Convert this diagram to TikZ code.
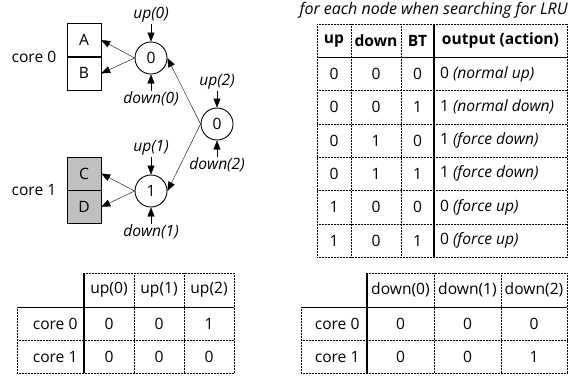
\documentclass[tikz,border=0pt]{standalone}
\usepackage{fontspec}
\setmainfont{Open Sans}
\usetikzlibrary{arrows.meta,positioning}
\definecolor{blkgray}{HTML}{C0C0C0}

\begin{document}
\begin{tikzpicture}[x=10pt, y=-10pt,
    font=\fontsize{15.6}{18}\selectfont,
    blk/.style={draw, minimum width=34pt, minimum height=33pt, inner sep=0pt},
    tn/.style={circle, draw, line width=0.9pt, minimum size=32pt, inner sep=0pt},
    sig/.style={font=\fontsize{15.6}{18}\selectfont\itshape, inner sep=1pt},
    hd/.style={font=\fontsize{15.6}{18}\selectfont\bfseries},
    arrow/.style={-{Triangle[length=9pt, width=7pt]}},
    dotline/.style={densely dotted, line width=0.5pt},
    headline/.style={line width=0.7pt},
    sepline/.style={line width=1.3pt}
]
\useasboundingbox (0,0) rectangle (56.9,37.5);

% Cache blocks
\node[blk] (A) at (8.4,4.0) {A};
\node[blk, below=0pt of A] (B) {B};
\node[blk, fill=blkgray] (C) at (8.4,17.35) {C};
\node[blk, fill=blkgray, below=0pt of C] (D) {D};
\node[left=7pt of A.south west] (core0) {core 0};
\node[left=7pt of C.south west] (core1) {core 1};

% Tree nodes
\node[tn] (n0) at (15.1,5.8) {0};
\node[tn] (n2) at (21.7,12.4) {0};
\node[tn] (n1) at (15.1,19.1) {1};

% Up / down signals
\node[sig] (up0) at (15.1,1.5) {up(0)};
\node[sig] (dn0) at (15.1,9.9) {down(0)};
\node[sig] (up2) at (21.7,8.2) {up(2)};
\node[sig] (dn2) at (21.7,16.5) {down(2)};
\node[sig] (up1) at (15.1,14.8) {up(1)};
\node[sig] (dn1) at (15.1,23.2) {down(1)};

% Arrows
\draw[arrow] (up0) -- (n0);
\draw[arrow] (dn0) -- (n0);
\draw[arrow] (up2) -- (n2);
\draw[arrow] (dn2) -- (n2);
\draw[arrow] (up1) -- (n1);
\draw[arrow] (dn1) -- (n1);
\draw[arrow] (n0.west) -- (A.east);
\draw[arrow] (n0.west) -- (B.east);
\draw[arrow] (n1.west) -- (C.east);
\draw[arrow] (n1.west) -- (D.east);
\draw[arrow] (n2.west) -- (n0.east);
\draw[arrow] (n2.west) -- (n1.east);

% LRU table
\node[sig, anchor=east, inner sep=0pt, font=\fontsize{16}{18}\selectfont\itshape] (cap) at (56.8,1.0) {for each node when searching for LRU};
\foreach \y in {2.4,9.06,12.39,15.72,19.05,22.38,25.71}
  \draw[dotline] (31.7,\y) -- (56.7,\y);
\draw[headline] (31.7,5.73) -- (56.7,5.73);
\foreach \x in {31.7,35.1,40.1,56.7}
  \draw[dotline] (\x,2.4) -- (\x,25.71);
\draw[sepline] (43.4,2.4) -- (43.4,25.71);
\node[hd] (hup) at (33.4,4.07) {up};
\node[hd] (hdown) at (37.6,4.07) {down};
\node[hd] (hbt) at (41.75,4.07) {BT};
\node[hd] (hout) at (50.05,4.07) {output (action)};
\foreach \u/\d/\b/\o/\a [count=\r] in {0/0/0/0/normal up, 0/0/1/1/normal down,
    0/1/0/1/force down, 0/1/1/1/force down, 1/0/0/0/force up, 1/0/1/0/force up} {
  \pgfmathsetmacro{\y}{2.4+3.33*(\r+0.5)}
  \node (u\r) at (33.4,\y) {\u};
  \node (d\r) at (37.6,\y) {\d};
  \node (b\r) at (41.75,\y) {\b};
  \node[anchor=west] (o\r) at (43.65,\y) {\o\ \textit{(\a)}};
}

% up table
\draw[dotline] (8.4,27.3) -- (23.4,27.3);
\draw[headline] (1.7,30.7) -- (23.4,30.7);
\draw[dotline] (1.7,34.0) -- (23.4,34.0);
\draw[dotline] (1.7,37.3) -- (23.4,37.3);
\draw[dotline] (1.7,30.7) -- (1.7,37.3);
\foreach \x in {13.4,18.4,23.4}
  \draw[dotline] (\x,27.3) -- (\x,37.3);
\draw[sepline] (8.4,27.3) -- (8.4,37.3);
\node (hu0) at (10.9,29.0) {up(0)};
\node (hu1) at (15.9,29.0) {up(1)};
\node (hu2) at (20.9,29.0) {up(2)};
\node[anchor=east] (uc0) at (8.1,32.35) {core 0};
\node[anchor=east] (uc1) at (8.1,35.65) {core 1};
\node (u00) at (10.9,32.35) {0};
\node (u01) at (15.9,32.35) {0};
\node (u02) at (20.9,32.35) {1};
\node (u10) at (10.9,35.65) {0};
\node (u11) at (15.9,35.65) {0};
\node (u12) at (20.9,35.65) {0};

% down table
\draw[dotline] (36.7,27.3) -- (56.7,27.3);
\draw[headline] (30.1,30.7) -- (56.7,30.7);
\draw[dotline] (30.1,34.0) -- (56.7,34.0);
\draw[dotline] (30.1,37.3) -- (56.7,37.3);
\draw[dotline] (30.1,30.7) -- (30.1,37.3);
\foreach \x in {43.4,50.1,56.7}
  \draw[dotline] (\x,27.3) -- (\x,37.3);
\draw[sepline] (36.7,27.3) -- (36.7,37.3);
\node (hd0) at (40.05,29.0) {down(0)};
\node (hd1) at (46.75,29.0) {down(1)};
\node (hd2) at (53.4,29.0) {down(2)};
\node[anchor=east] (dc0) at (36.3,32.35) {core 0};
\node[anchor=east] (dc1) at (36.3,35.65) {core 1};
\node (d00) at (40.05,32.35) {0};
\node (d01) at (46.75,32.35) {0};
\node (d02) at (53.4,32.35) {0};
\node (d10) at (40.05,35.65) {0};
\node (d11) at (46.75,35.65) {0};
\node (d12) at (53.4,35.65) {1};
\end{tikzpicture}
\end{document}
